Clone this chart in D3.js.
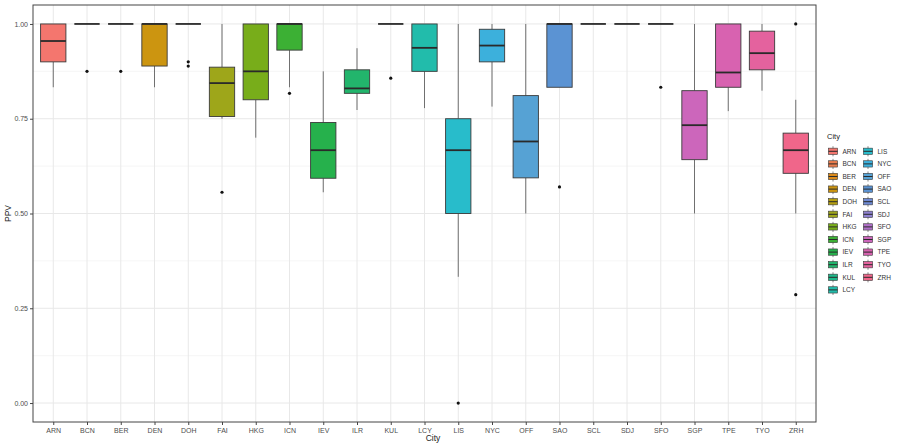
<!DOCTYPE html>
<html>
<head>
<meta charset="utf-8">
<script src="https://cdn.jsdelivr.net/npm/d3@7"></script>
<style>
  html, body { margin: 0; padding: 0; background: #ffffff; }
  svg { display: block; font-family: "Liberation Sans", Arial, Helvetica, sans-serif; }
</style>
</head>
<body>
<svg id="chart" width="897" height="445"></svg>
<script>
// Positive predictive value per city: box-plot summary statistics
const cities = ["ARN","BCN","BER","DEN","DOH","FAI","HKG","ICN","IEV","ILR","KUL","LCY",
                "LIS","NYC","OFF","SAO","SCL","SDJ","SFO","SGP","TPE","TYO","ZRH"];
const whiskerLow  = [0.833,1.000,1.000,0.833,1.000,0.750,0.700,0.833,0.556,0.773,1.000,0.778,
                     0.333,0.782,0.500,0.833,1.000,1.000,1.000,0.500,0.770,0.824,0.500];
const q1          = [0.900,1.000,1.000,0.889,1.000,0.756,0.800,0.931,0.593,0.817,1.000,0.875,
                     0.500,0.900,0.594,0.833,1.000,1.000,1.000,0.642,0.833,0.879,0.606];
const median      = [0.955,1.000,1.000,1.000,1.000,0.844,0.875,1.000,0.667,0.830,1.000,0.937,
                     0.667,0.943,0.690,1.000,1.000,1.000,1.000,0.733,0.872,0.923,0.667];
const q3          = [1.000,1.000,1.000,1.000,1.000,0.886,1.000,1.000,0.740,0.879,1.000,1.000,
                     0.750,0.986,0.811,1.000,1.000,1.000,1.000,0.824,1.000,0.981,0.712];
const whiskerHigh = [1.000,1.000,1.000,1.000,1.000,1.000,1.000,1.000,0.875,0.936,1.000,1.000,
                     1.000,1.000,1.000,1.000,1.000,1.000,1.000,1.000,1.000,1.000,0.800];
const outliers    = [[],[0.875],[0.875],[],[0.900,0.889],[0.556],[],[0.817],[],[],[0.857],[],
                     [0.000],[],[],[0.570],[],[],[0.833],[],[],[],[1.000,0.286]];
const yTicks = [0, 0.25, 0.5, 0.75, 1];
const yMinor = [0.125, 0.375, 0.625, 0.875];

// fill colours, one per city (hue wheel, softened in the blue-magenta range)
const palette = ["#f4766e","#ea7d4e","#dc8a1a","#cc9510","#b49e10","#9ea61a","#78ad1a","#3cb034",
                 "#26b14c","#22b56c","#1eb88a","#22bcab","#28bccb","#3cb0dc","#56a2d4","#5b93d3",
                 "#6e8ad4","#8e80d0","#b070c8","#cc66bb","#d862b0","#e4629e","#f0668a"];
const color = d3.scaleOrdinal().domain(cities).range(palette);

const svg = d3.select("#chart");
const panel = { left: 33, right: 816, top: 5, bottom: 422 };

const x = d3.scalePoint().domain(cities).range([panel.left, panel.right]).padding(0.6);
const y = d3.scaleLinear().domain([-0.05, 1.05]).range([panel.bottom, panel.top]);
const boxW = x.step() * 0.75;

// grid
const grid = svg.append("g");
grid.selectAll("line.minor").data(yMinor).join("line")
  .attr("x1", panel.left).attr("x2", panel.right)
  .attr("y1", d => y(d)).attr("y2", d => y(d))
  .attr("stroke", "#f0f0f0").attr("stroke-width", 0.6);
grid.selectAll("line.majorY").data(yTicks).join("line")
  .attr("x1", panel.left).attr("x2", panel.right)
  .attr("y1", d => y(d)).attr("y2", d => y(d))
  .attr("stroke", "#e8e8e8").attr("stroke-width", 1);
grid.selectAll("line.majorX").data(cities).join("line")
  .attr("x1", d => x(d)).attr("x2", d => x(d))
  .attr("y1", panel.top).attr("y2", panel.bottom)
  .attr("stroke", "#e8e8e8").attr("stroke-width", 1);

// boxes
const rows = cities.map((c, i) => ({
  city: c, lo: whiskerLow[i], q1: q1[i], med: median[i], q3: q3[i], hi: whiskerHigh[i], out: outliers[i]
}));
const g = svg.append("g").selectAll("g").data(rows).join("g");
g.append("line")
  .attr("x1", d => x(d.city)).attr("x2", d => x(d.city))
  .attr("y1", d => y(d.hi)).attr("y2", d => y(d.q3))
  .attr("stroke", "#707070").attr("stroke-width", 1);
g.append("line")
  .attr("x1", d => x(d.city)).attr("x2", d => x(d.city))
  .attr("y1", d => y(d.q1)).attr("y2", d => y(d.lo))
  .attr("stroke", "#707070").attr("stroke-width", 1);
g.append("rect")
  .attr("x", d => x(d.city) - boxW / 2).attr("width", boxW)
  .attr("y", d => y(d.q3)).attr("height", d => y(d.q1) - y(d.q3))
  .attr("fill", d => color(d.city))
  .attr("stroke", "#3a3a3a").attr("stroke-width", 0.9);
g.append("line")
  .attr("x1", d => x(d.city) - boxW / 2).attr("x2", d => x(d.city) + boxW / 2)
  .attr("y1", d => y(d.med)).attr("y2", d => y(d.med))
  .attr("stroke", "#2a2a2a").attr("stroke-width", 1.8);
g.selectAll("circle").data(d => d.out.map(v => ({ city: d.city, v }))).join("circle")
  .attr("cx", d => x(d.city)).attr("cy", d => y(d.v)).attr("r", 1.6)
  .attr("fill", "#111");

// panel border
svg.append("rect")
  .attr("x", panel.left).attr("y", panel.top)
  .attr("width", panel.right - panel.left).attr("height", panel.bottom - panel.top)
  .attr("fill", "none").attr("stroke", "#444").attr("stroke-width", 1);

// axes
const yAxis = svg.append("g").attr("transform", `translate(${panel.left},0)`)
  .call(d3.axisLeft(y).tickValues(yTicks).tickFormat(d3.format(".2f")).tickSize(3).tickPadding(2));
const xAxis = svg.append("g").attr("transform", `translate(0,${panel.bottom})`)
  .call(d3.axisBottom(x).tickSize(3).tickPadding(3));
[yAxis, xAxis].forEach(a => {
  a.select(".domain").remove();
  a.selectAll(".tick line").attr("stroke", "#444");
  a.selectAll(".tick text").attr("fill", "#4d4d4d").style("font-size", "7px");
});

svg.append("text").attr("x", 433).attr("y", 441).attr("text-anchor", "middle")
  .attr("fill", "#222").style("font-size", "8.5px").text("City");
svg.append("text").attr("transform", `translate(11,${(panel.top + panel.bottom) / 2}) rotate(-90)`)
  .attr("text-anchor", "middle").attr("fill", "#222").style("font-size", "8.5px").text("PPV");

// legend
const legend = svg.append("g");
legend.append("text").attr("x", 827).attr("y", 139).attr("fill", "#222")
  .style("font-size", "7.5px").text("City");
const perCol = 12, rowH = 12.6, keyH = 12.6, keyW = 12;
const items = legend.selectAll("g.item").data(cities).join("g")
  .attr("transform", (d, i) => `translate(${827 + Math.floor(i / perCol) * 35},${145 + (i % perCol) * rowH})`);
items.append("line")
  .attr("x1", keyW / 2).attr("x2", keyW / 2).attr("y1", keyH * 0.1).attr("y2", keyH * 0.9)
  .attr("stroke", "#6a6a6a").attr("stroke-width", 0.8);
items.append("rect")
  .attr("x", keyW * 0.12).attr("width", keyW * 0.76)
  .attr("y", keyH * 0.25).attr("height", keyH * 0.5)
  .attr("fill", d => color(d)).attr("stroke", "#3a3a3a").attr("stroke-width", 0.6);
items.append("line")
  .attr("x1", keyW * 0.12).attr("x2", keyW * 0.88).attr("y1", keyH * 0.5).attr("y2", keyH * 0.5)
  .attr("stroke", "#2a2a2a").attr("stroke-width", 1);
items.append("text").attr("x", keyW + 3.5).attr("y", keyH / 2).attr("dy", "0.35em")
  .attr("fill", "#333").style("font-size", "6.5px").text(d => d);
</script>
</body>
</html>
